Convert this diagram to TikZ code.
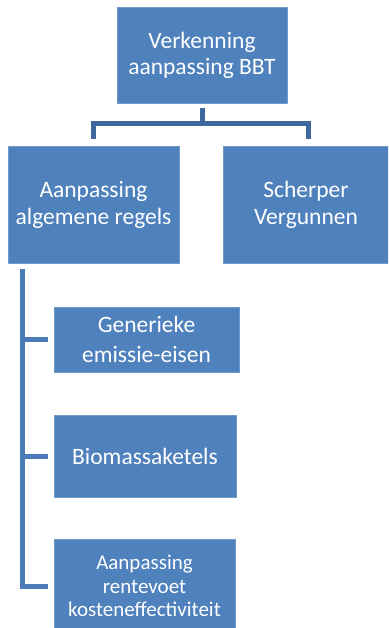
\documentclass[tikz,border=0pt]{standalone}
\usepackage{fontspec}
\setmainfont{Carlito}
\definecolor{boxblue}{HTML}{4F81BD}
\definecolor{topline}{HTML}{3E679D}
\definecolor{sideline}{HTML}{4A7AB7}
\begin{document}
\begin{tikzpicture}[x=1pt,y=-1pt,
  box/.style={fill=boxblue, draw=boxblue!80!white, line width=0.6pt, text=white, align=center, inner sep=0pt, anchor=center},
  conn/.style={line width=5pt},
  big/.style={font=\fontsize{23.5}{26}\selectfont},
  mid/.style={font=\fontsize{23.5}{30}\selectfont},
  small/.style={font=\fontsize{21}{23.3}\selectfont}]
\useasboundingbox (0,0) rectangle (388,628);
\clip (0,0) rectangle (388,628);
\node[box,big,minimum width=170pt,minimum height=96pt] (top) at (202,55) {Verkenning\\aanpassing BBT};
\node[box,big,font=\fontsize{23.5}{27}\selectfont,minimum width=171pt,minimum height=117pt] (left) at (93.5,204.5) {Aanpassing\\algemene regels};
\node[box,big,font=\fontsize{23.5}{27}\selectfont,minimum width=166pt,minimum height=117pt] (right) at (306,204.5) {Scherper\\Vergunnen};
\node[box,mid,minimum width=185pt,minimum height=65pt] (gen) at (146.5,339.5) {Generieke\\emissie-eisen};
\node[box,big,minimum width=182pt,minimum height=82pt] (bio) at (145,456) {Biomassaketels};
\node[box,small,minimum width=181pt,minimum height=94pt] (rente) at (144.5,586) {Aanpassing\\rentevoet\\kosteneffectiviteit};
% top connectors
\draw[conn,topline] ([yshift=-5pt]top.south) -- ([yshift=-20pt]top.south);
\draw[conn,topline] ([yshift=7pt]left.north) |- ([yshift=-20pt]top.south) -| ([xshift=2pt,yshift=7pt]right.north);
% side spine
\coordinate (spine) at ([xshift=15pt,yshift=-6pt]left.south west);
\draw[conn,sideline] (spine) |- ([xshift=-6pt]rente.west);
\draw[conn,sideline] (spine |- gen.west) -- ([xshift=-6pt]gen.west);
\draw[conn,sideline] (spine |- bio.west) -- ([xshift=-6pt]bio.west);
\end{tikzpicture}
\end{document}
